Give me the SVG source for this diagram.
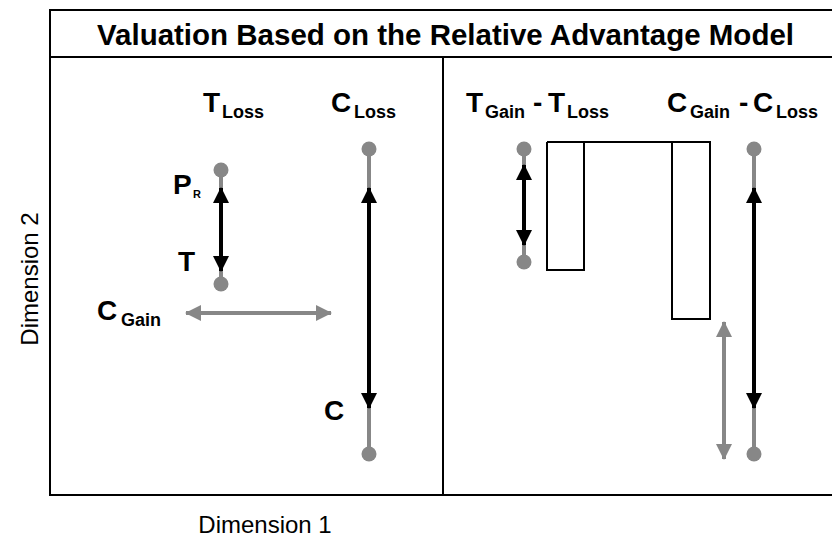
<svg xmlns="http://www.w3.org/2000/svg" width="832" height="537" viewBox="0 0 832 537">
<style>
.frame{fill:none;stroke:#000;stroke-width:2}
.t{font-family:"Liberation Sans",Arial,sans-serif;font-weight:bold;fill:#000}
.big{font-size:28px}
.sub{font-size:18px}
.dim{font-family:"Liberation Sans",Arial,sans-serif;font-size:24px;fill:#000}
.gl{stroke:#878787;stroke-width:4;fill:none}
.bl{stroke:#000;stroke-width:4;fill:none}
.dot{fill:#878787}
.bar{fill:#fff;stroke:#000;stroke-width:2}
</style>
<defs>
<marker id="ab" viewBox="0 0 16 16" refX="15" refY="8" markerWidth="16" markerHeight="16" markerUnits="userSpaceOnUse" orient="auto-start-reverse"><path d="M0,0 L16,8 L0,16 Z" fill="#000"/></marker>
<marker id="ag" viewBox="0 0 16 16" refX="15" refY="8" markerWidth="16" markerHeight="16" markerUnits="userSpaceOnUse" orient="auto-start-reverse"><path d="M0,0 L16,8 L0,16 Z" fill="#878787"/></marker>
</defs>
<rect width="832" height="537" fill="#fff"/>
<g id="frame">
<path class="frame" d="M833,10 H50 V495 H833 M50,57 H833 M443,57 V495"/>
</g>
<g id="title"><text class="t" x="97" y="45" font-size="29" textLength="697" lengthAdjust="spacingAndGlyphs">Valuation Based on the Relative Advantage Model</text></g>
<g id="axis-labels">
<text class="dim" x="265" y="533" text-anchor="middle">Dimension 1</text>
<text class="dim" transform="translate(38,279) rotate(-90)" text-anchor="middle">Dimension 2</text>
</g>
<g id="label-tloss"><text class="t big" x="203" y="112">T</text><text class="t sub" x="222" y="118">Loss</text></g>
<g id="label-closs"><text class="t big" x="331" y="112">C</text><text class="t sub" x="354" y="118">Loss</text></g>
<g id="label-diff-t"><text class="t big" x="466" y="112">T</text><text class="t sub" x="485" y="118">Gain</text><text class="t big" x="533" y="112">-</text><text class="t big" x="548" y="112">T</text><text class="t sub" x="567" y="118">Loss</text></g>
<g id="label-diff-c"><text class="t big" x="667" y="112">C</text><text class="t sub" x="690" y="118">Gain</text><text class="t big" x="739" y="112">-</text><text class="t big" x="753" y="112">C</text><text class="t sub" x="776" y="118">Loss</text></g>
<g id="label-pr"><text class="t big" x="173" y="194">P</text><text class="t" font-size="11" x="193" y="198">R</text></g>
<g id="label-t"><text class="t big" x="178" y="271">T</text></g>
<g id="label-c"><text class="t big" x="324" y="420">C</text></g>
<g id="label-cgain"><text class="t big" x="97" y="320">C</text><text class="t sub" x="121" y="326">Gain</text></g>
<g id="bars">
<path class="bar" d="M547,142 H710 V319 H672 V142 M584,142 V270 H547 V142"/>
</g>
<g id="connectors">
<line class="gl" x1="221" y1="170" x2="221" y2="284"/>
<circle class="dot" cx="221" cy="170" r="7.5"/><circle class="dot" cx="221" cy="284" r="7.5"/>
<line class="bl" x1="221" y1="188" x2="221" y2="271" marker-start="url(#ab)" marker-end="url(#ab)"/>
<line class="gl" x1="369" y1="149" x2="369" y2="454"/>
<circle class="dot" cx="369" cy="149" r="7.5"/><circle class="dot" cx="369" cy="454" r="7.5"/>
<line class="bl" x1="369" y1="188" x2="369" y2="408" marker-start="url(#ab)" marker-end="url(#ab)"/>
<line class="gl" x1="186" y1="313" x2="331" y2="313" marker-start="url(#ag)" marker-end="url(#ag)"/>
<line class="gl" x1="524" y1="149" x2="524" y2="262"/>
<circle class="dot" cx="524" cy="149" r="7.5"/><circle class="dot" cx="524" cy="262" r="7.5"/>
<line class="bl" x1="524" y1="165" x2="524" y2="245" marker-start="url(#ab)" marker-end="url(#ab)"/>
<line class="gl" x1="754" y1="149" x2="754" y2="454"/>
<circle class="dot" cx="754" cy="149" r="7.5"/><circle class="dot" cx="754" cy="454" r="7.5"/>
<line class="bl" x1="754" y1="188" x2="754" y2="408" marker-start="url(#ab)" marker-end="url(#ab)"/>
<line class="gl" x1="724" y1="322" x2="724" y2="459" marker-start="url(#ag)" marker-end="url(#ag)"/>
</g>
</svg>
